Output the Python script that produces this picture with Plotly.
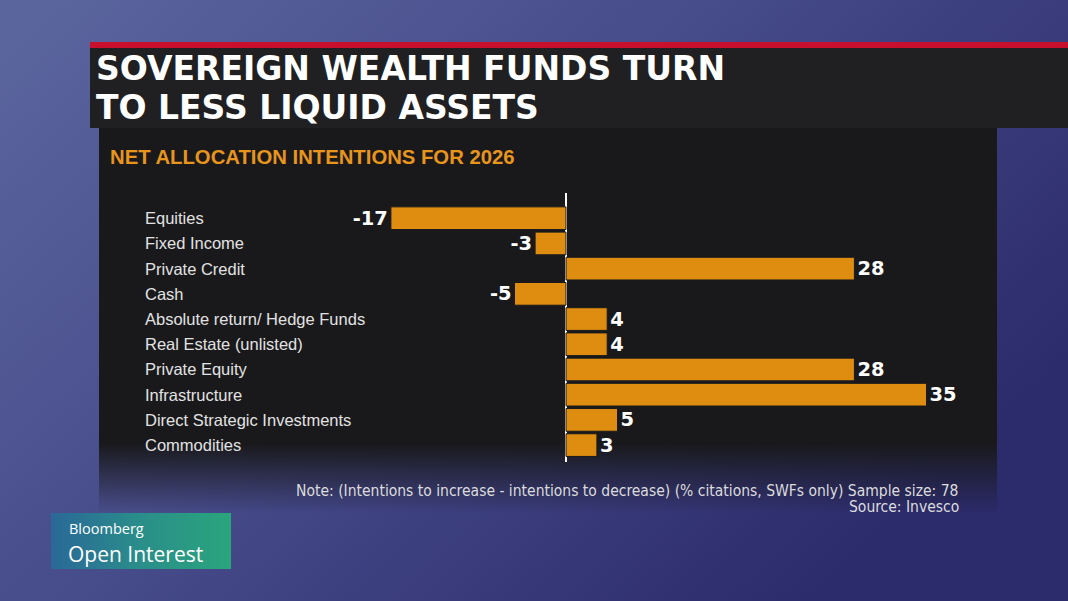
import base64
import plotly.graph_objects as go

categories = ["Equities", "Fixed Income", "Private Credit", "Cash",
              "Absolute return/ Hedge Funds", "Real Estate (unlisted)",
              "Private Equity", "Infrastructure", "Direct Strategic Investments",
              "Commodities"]
values = [-17, -3, 28, -5, 4, 4, 28, 35, 5, 3]
value_labels = ["-17", "-3", "28", "-5", "4", "4", "28", "35", "5", "3"]

title_lines = ["SOVEREIGN WEALTH FUNDS TURN", "TO LESS LIQUID ASSETS"]
subtitle_text = "NET ALLOCATION INTENTIONS FOR 2026"
note_text = "Note: (Intentions to increase - intentions to decrease) (% citations, SWFs only) Sample size: 78"
source_text = "Source: Invesco"

W, H = 1068, 601

svg = f"""<svg xmlns='http://www.w3.org/2000/svg' width='{W}' height='{H}' viewBox='0 0 {W} {H}'>
<defs>
<linearGradient id='bg' x1='0' y1='0' x2='1' y2='0.6'>
<stop offset='0' stop-color='#5c669e'/>
<stop offset='0.5' stop-color='#464b8a'/>
<stop offset='1' stop-color='#2c2b6c'/>
</linearGradient>
<linearGradient id='panel' x1='0' y1='0' x2='0' y2='1'>
<stop offset='0' stop-color='#19191c'/>
<stop offset='0.82' stop-color='#19191c'/>
<stop offset='1' stop-color='#19191c' stop-opacity='0'/>
</linearGradient>
<linearGradient id='bb' x1='0' y1='0' x2='1' y2='0'>
<stop offset='0' stop-color='#2a6898'/>
<stop offset='0.5' stop-color='#2a8e8a'/>
<stop offset='1' stop-color='#2aa57c'/>
</linearGradient>
</defs>
<rect x='0' y='0' width='{W}' height='{H}' fill='url(#bg)'/>
<rect x='99' y='128' width='898' height='385' fill='url(#panel)'/>
<rect x='90' y='42' width='{W-90}' height='86' fill='#202023'/>
<rect x='90' y='42' width='{W-90}' height='6' fill='#c8102e'/>
<rect x='51' y='513' width='180' height='56' fill='url(#bb)'/>
</svg>"""
svg_uri = "data:image/svg+xml;base64," + base64.b64encode(svg.encode()).decode()

# plot area geometry in pixels
x_left, x_right = 360, 978
y_top, y_bottom = 193, 462

fig = go.Figure()
fig.add_trace(go.Bar(
    x=values, y=categories, orientation="h",
    marker=dict(color="#de8d10", line=dict(color="#1a1a1c", width=1)),
    width=0.9,
    text=value_labels, textposition="outside",
    textfont=dict(family="DejaVu Sans", size=24, color="white", weight="bold"),
    cliponaxis=False, hoverinfo="skip",
))

annotations = []
for c in categories:
    annotations.append(dict(
        x=143 / W, xref="paper", y=c, yref="y", text=c, showarrow=False,
        xanchor="left", yanchor="middle",
        font=dict(family="Liberation Sans", size=16.5, color="#e2e2e2")))

for line, yc in zip(title_lines, [68, 107]):
    annotations.append(dict(
        x=94 / W, y=1 - yc / H, xref="paper", yref="paper", text=line,
        showarrow=False, xanchor="left", yanchor="middle", align="left",
        font=dict(family="DejaVu Sans", size=33, color="white", weight="bold")))

annotations += [
    dict(x=108 / W, y=1 - 157 / H, xref="paper", yref="paper", text=subtitle_text,
         showarrow=False, xanchor="left", yanchor="middle",
         font=dict(family="Liberation Sans", size=20.3, color="#e8951c", weight="bold")),
    dict(x=961 / W, y=1 - 491 / H, xref="paper", yref="paper", text=note_text,
         showarrow=False, xanchor="right", yanchor="middle",
         font=dict(family="DejaVu Sans Condensed", size=15.5, color="#dcdcdc")),
    dict(x=961 / W, y=1 - 507 / H, xref="paper", yref="paper", text=source_text,
         showarrow=False, xanchor="right", yanchor="middle",
         font=dict(family="DejaVu Sans Condensed", size=15.5, color="#dcdcdc")),
    dict(x=67 / W, y=1 - 528.5 / H, xref="paper", yref="paper", text="Bloomberg",
         showarrow=False, xanchor="left", yanchor="middle",
         font=dict(family="Open Sans", size=14.5, color="white")),
    dict(x=66 / W, y=1 - 553.5 / H, xref="paper", yref="paper", text="Open Interest",
         showarrow=False, xanchor="left", yanchor="middle",
         font=dict(family="Open Sans", size=21, color="white")),
]

fig.update_layout(
    width=W, height=H,
    margin=dict(l=0, r=0, t=0, b=0),
    paper_bgcolor="#464b8a", plot_bgcolor="rgba(0,0,0,0)",
    showlegend=False,
    images=[dict(source=svg_uri, xref="paper", yref="paper", x=0, y=1,
                 sizex=1, sizey=1, sizing="stretch", xanchor="left", yanchor="top",
                 layer="below")],
    xaxis=dict(domain=[x_left / W, x_right / W], range=[-20, 40],
               showgrid=False, showticklabels=False, ticks="",
               zeroline=True, zerolinecolor="white", zerolinewidth=2,
               fixedrange=True),
    yaxis=dict(domain=[1 - y_bottom / H, 1 - y_top / H], range=[9.67, -1.0],
               showgrid=False, showticklabels=False, ticks="",
               fixedrange=True),
    annotations=annotations,
    bargap=0.1,
)

fig.write_html("out.html")
